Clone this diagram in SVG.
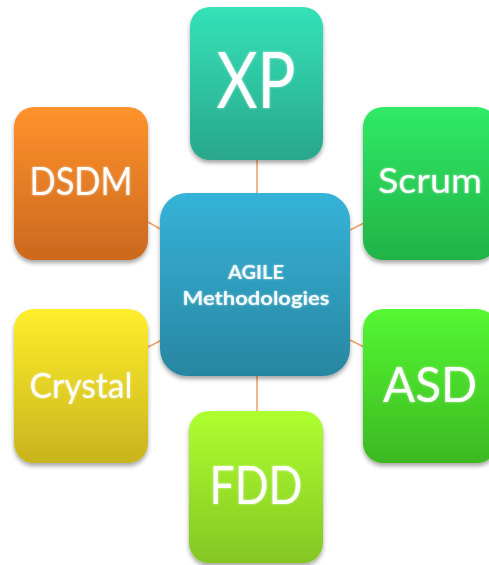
<svg xmlns="http://www.w3.org/2000/svg" width="489" height="565" viewBox="0 0 489 565">
  <defs>
    <filter id="shadow" x="-10%" y="-10%" width="130%" height="130%">
      <feDropShadow dx="0" dy="3" stdDeviation="2.2" flood-color="#000" flood-opacity="0.35"/>
    </filter>
    <filter id="glow" x="-10%" y="-20%" width="120%" height="140%">
      <feDropShadow dx="0" dy="0" stdDeviation="0.8" flood-color="#ffffff" flood-opacity="0.6"/>
    </filter>
    <linearGradient id="gXP" x1="0" y1="0" x2="0" y2="1">
      <stop offset="0" stop-color="#34E2B8"/>
      <stop offset="1" stop-color="#29A78B"/>
    </linearGradient>
    <linearGradient id="gDSDM" x1="0" y1="0" x2="0" y2="1">
      <stop offset="0" stop-color="#FF932D"/>
      <stop offset="1" stop-color="#CB681E"/>
    </linearGradient>
    <linearGradient id="gScrum" x1="0" y1="0" x2="0" y2="1">
      <stop offset="0" stop-color="#30EA66"/>
      <stop offset="1" stop-color="#22B346"/>
    </linearGradient>
    <linearGradient id="gCenter" x1="0" y1="0" x2="0" y2="1">
      <stop offset="0" stop-color="#36B3D9"/>
      <stop offset="1" stop-color="#2886A1"/>
    </linearGradient>
    <linearGradient id="gCrystal" x1="0" y1="0" x2="0" y2="1">
      <stop offset="0" stop-color="#FFEE2C"/>
      <stop offset="1" stop-color="#C8B41E"/>
    </linearGradient>
    <linearGradient id="gASD" x1="0" y1="0" x2="0" y2="1">
      <stop offset="0" stop-color="#55F832"/>
      <stop offset="1" stop-color="#3CB823"/>
    </linearGradient>
    <linearGradient id="gFDD" x1="0" y1="0" x2="0" y2="1">
      <stop offset="0" stop-color="#AEFF2F"/>
      <stop offset="1" stop-color="#85C624"/>
    </linearGradient>
  </defs>
  <style>
    .box { filter: url(#shadow); }
    .lbl { font-family: Lato, "Open Sans", "Liberation Sans", sans-serif; fill: #ffffff; text-anchor: middle; filter: url(#glow); }
    .hub { font-family: Lato, "Open Sans", "Liberation Sans", sans-serif; font-weight: bold; fill: #f4fbff; text-anchor: middle; filter: url(#glow); }
    .link { stroke: #F2A36A; stroke-width: 1.6; fill: none; }
  </style>

  <rect width="489" height="565" fill="#ffffff"/>

  <!-- connectors from the hub to each method -->
  <g id="connectors">
    <line class="link" x1="257" y1="160" x2="257" y2="194"/>
    <line class="link" x1="257" y1="376" x2="257" y2="411"/>
    <line class="link" x1="148" y1="222" x2="162" y2="230"/>
    <line class="link" x1="350" y1="230" x2="364" y2="223"/>
    <line class="link" x1="148" y1="347" x2="162" y2="340"/>
    <line class="link" x1="350" y1="340" x2="364" y2="347"/>
  </g>

  <g id="xp">
    <rect class="box" x="190" y="7" width="133" height="153" rx="20" fill="url(#gXP)"/>
    <text class="lbl" x="256" y="108" font-size="77" textLength="79" lengthAdjust="spacingAndGlyphs">XP</text>
  </g>

  <g id="dsdm">
    <rect class="box" x="14" y="107" width="134" height="153" rx="20" fill="url(#gDSDM)"/>
    <text class="lbl" x="81" y="195" font-size="38" textLength="103" lengthAdjust="spacingAndGlyphs">DSDM</text>
  </g>

  <g id="scrum">
    <rect class="box" x="363" y="107" width="134" height="153" rx="20" fill="url(#gScrum)"/>
    <text class="lbl" x="430" y="193" font-size="35" textLength="104" lengthAdjust="spacingAndGlyphs">Scrum</text>
  </g>

  <g id="crystal">
    <rect class="box" x="14" y="309" width="134" height="154" rx="20" fill="url(#gCrystal)"/>
    <text class="lbl" x="81" y="398" font-size="34" textLength="103" lengthAdjust="spacingAndGlyphs">Crystal</text>
  </g>

  <g id="asd">
    <rect class="box" x="363" y="309" width="134" height="154" rx="20" fill="url(#gASD)"/>
    <text class="lbl" x="430" y="402" font-size="49" textLength="94" lengthAdjust="spacingAndGlyphs">ASD</text>
  </g>

  <g id="fdd">
    <rect class="box" x="189" y="411" width="134" height="152" rx="20" fill="url(#gFDD)"/>
    <text class="lbl" x="256" y="504" font-size="52" textLength="93" lengthAdjust="spacingAndGlyphs">FDD</text>
  </g>

  <g id="agile">
    <rect class="box" x="160" y="193" width="190" height="183" rx="27" fill="url(#gCenter)"/>
    <text class="hub" x="256" y="279" font-size="19" textLength="56" lengthAdjust="spacingAndGlyphs">AGILE</text>
    <text class="hub" x="256" y="305" font-size="19" textLength="147" lengthAdjust="spacingAndGlyphs">Methodologies</text>
  </g>
</svg>
